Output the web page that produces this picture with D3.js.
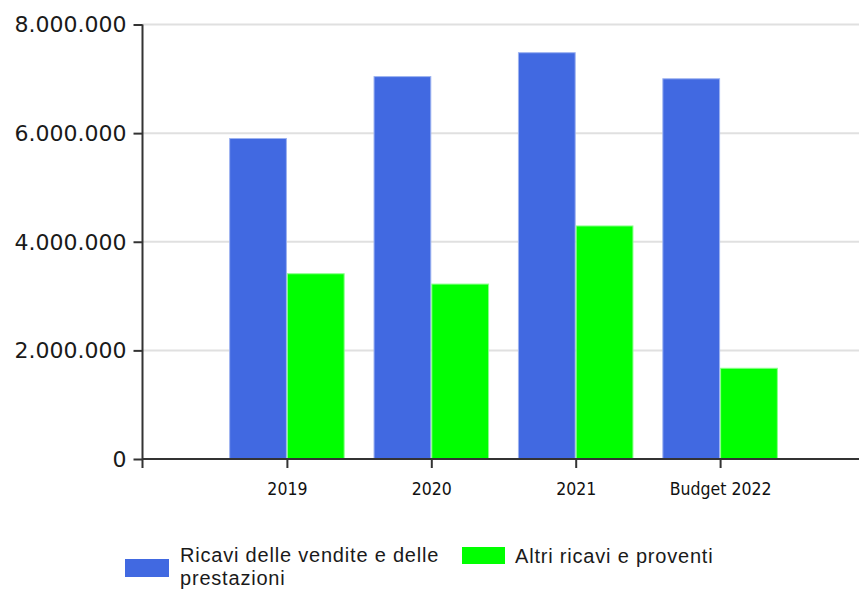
<!DOCTYPE html>
<html><head><meta charset="utf-8">
<script src="https://cdn.jsdelivr.net/npm/d3@7/dist/d3.min.js"></script>
<style>
body{margin:0;background:#fff;}
svg{display:block;}
</style></head>
<body>
<svg id="chart" width="859" height="590"></svg>
<script>
const categories = ["2019", "2020", "2021", "Budget 2022"];
const seriesNames = ["Ricavi delle vendite e delle prestazioni", "Altri ricavi e proventi"];
const ricaviVendite = [5910000, 7050000, 7490000, 7010000];
const altriRicavi = [3420000, 3230000, 4300000, 1680000];
const yTicks = [0, 2000000, 4000000, 6000000, 8000000];
const colors = ["#4169E1", "#00FF00"];
const strokes = ["#9db2f0", "#8cff8c"];

const svg = d3.select("#chart");
const mLeft = 142.5, mRight = 859, mTop = 24.5, mBottom = 459;
const step = 144.4;

const x = d3.scalePoint().domain(["", ...categories]).range([mLeft, mLeft + step * categories.length]);
const y = d3.scaleLinear().domain([0, 8000000]).range([mBottom, mTop]);
const bw = step * 0.4;

const fmt = v => d3.format(",")(v).replace(/,/g, ".");

// gridlines
svg.append("g").selectAll("line").data(yTicks.filter(t => t > 0)).join("line")
  .attr("x1", mLeft).attr("x2", mRight)
  .attr("y1", d => y(d)).attr("y2", d => y(d))
  .attr("stroke", "#e0e0e0").attr("stroke-width", 2);

// bars
const series = [ricaviVendite, altriRicavi];
series.forEach((vals, si) => {
  svg.append("g").selectAll("rect").data(vals).join("rect")
    .attr("x", (d, i) => x(categories[i]) - bw + si * bw + 0.5)
    .attr("y", d => y(d) + 0.5)
    .attr("width", bw - 1)
    .attr("height", d => mBottom - y(d) - 0.5)
    .attr("fill", colors[si])
    .attr("stroke", strokes[si]).attr("stroke-width", 1);
});

// y axis
const yAxis = svg.append("g").attr("transform", `translate(${mLeft},0)`)
  .call(d3.axisLeft(y).tickValues(yTicks).tickFormat(fmt).tickSize(9).tickPadding(7));
yAxis.select(".domain").attr("stroke", "#333").attr("stroke-width", 2).attr("d", `M0,${mTop}H0V${mBottom + 9}`);
yAxis.selectAll(".tick line").attr("stroke", "#333").attr("stroke-width", 2);
yAxis.selectAll("text").attr("font-family", "DejaVu Sans, Verdana, sans-serif")
  .attr("font-size", 22).attr("fill", "#1a1a1a").attr("dy", "0.34em");

// x axis
const xAxis = svg.append("g").attr("transform", `translate(0,${mBottom})`)
  .call(d3.axisBottom(x).tickValues(categories).tickSize(9).tickPadding(15));
xAxis.select(".domain").attr("stroke", "#333").attr("stroke-width", 2).attr("d", `M${mLeft},0H${mRight}`);
xAxis.selectAll(".tick line").attr("stroke", "#333").attr("stroke-width", 2);
xAxis.selectAll("text").attr("font-family", "DejaVu Sans Condensed, DejaVu Sans, sans-serif")
  .attr("font-size", 17.5).attr("fill", "#111");

// legend
const lg = svg.append("g").attr("font-family", "Liberation Sans, Arial, sans-serif")
  .attr("font-size", 20).attr("letter-spacing", 0.8).attr("fill", "#1a1a1a");
lg.append("rect").attr("x", 125).attr("y", 559).attr("width", 44).attr("height", 18).attr("fill", colors[0]);
const t1 = lg.append("text").attr("x", 180).attr("y", 562);
t1.append("tspan").attr("x", 180).text("Ricavi delle vendite e delle");
t1.append("tspan").attr("x", 180).attr("y", 585).text("prestazioni");
lg.append("rect").attr("x", 462).attr("y", 547).attr("width", 43).attr("height", 17).attr("fill", colors[1]);
lg.append("text").attr("x", 515).attr("y", 563).text(seriesNames[1]);
</script>
</body></html>
